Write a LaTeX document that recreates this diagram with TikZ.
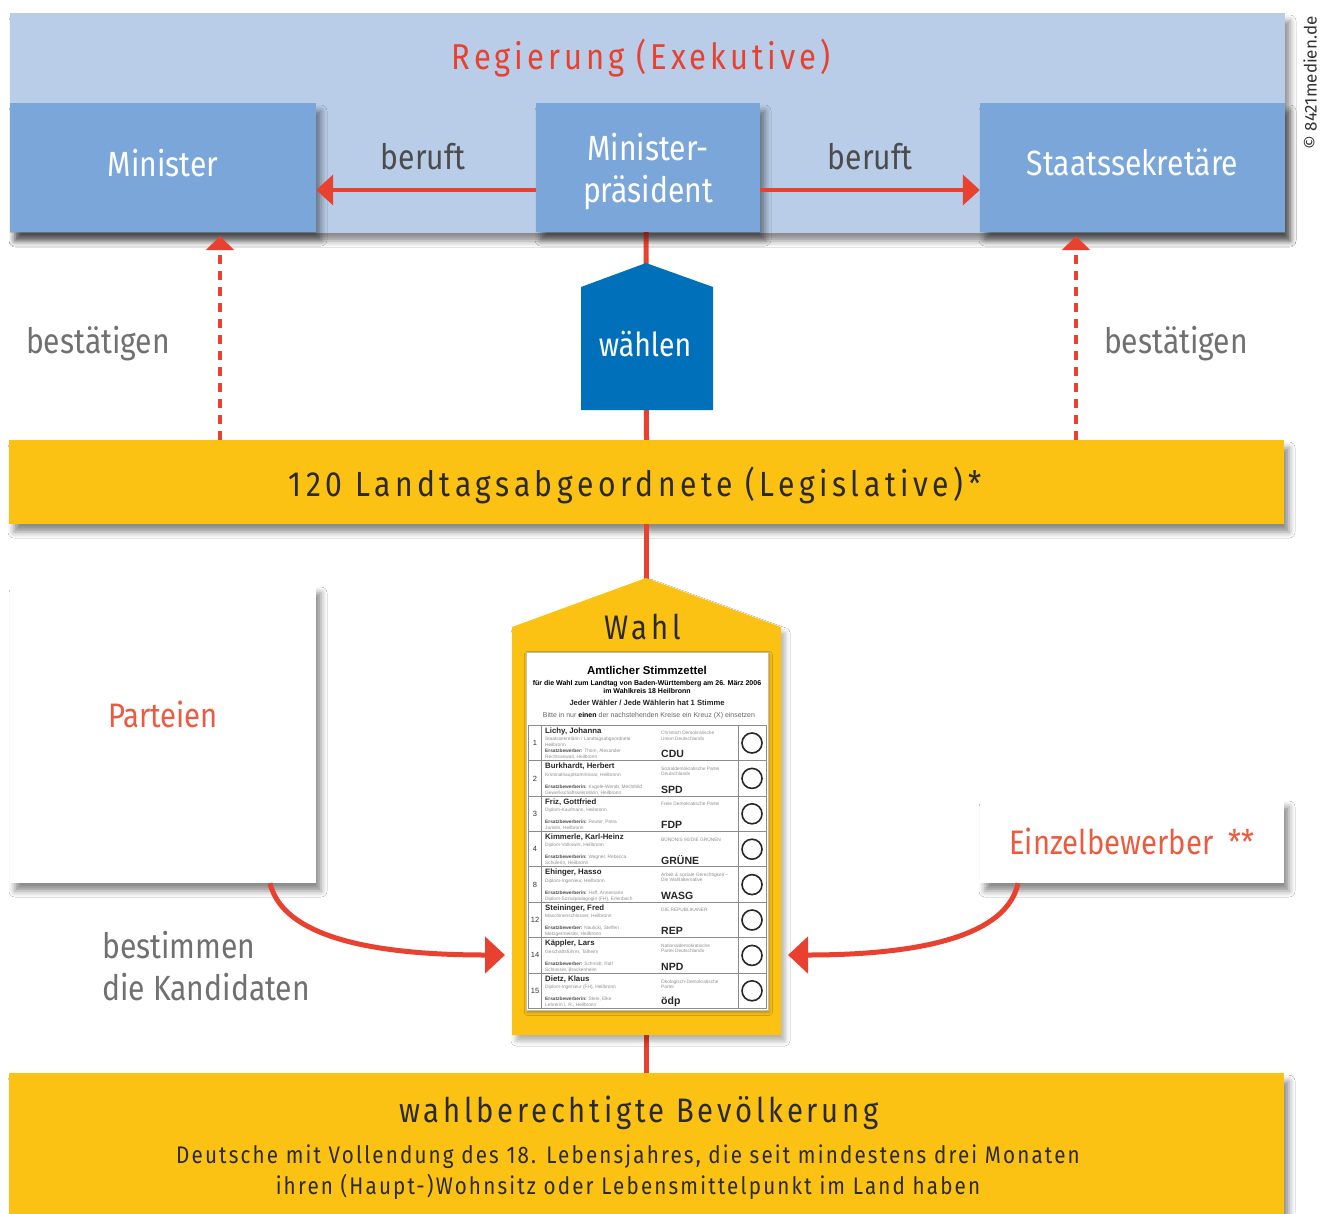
\documentclass[tikz,border=0pt]{standalone}
\usepackage{fontspec}
\setmainfont[FakeStretch=0.86]{Fira Sans}
\newfontfamily\spacedA[FakeStretch=0.86,LetterSpace=11]{Fira Sans}
\newfontfamily\spacedC[FakeStretch=0.86,LetterSpace=13]{Fira Sans}
\newfontfamily\spacedB[FakeStretch=0.86,LetterSpace=9]{Fira Sans}
\newfontfamily\plainsans{Fira Sans}
\newfontfamily\ballotfont{Liberation Sans}
\usetikzlibrary{arrows.meta,shadows.blur}
\definecolor{bandblue}{HTML}{B9CDE8}
\definecolor{boxblue}{HTML}{7BA6D9}
\definecolor{wblue}{HTML}{0070BA}
\definecolor{gelb}{HTML}{FCC213}
\definecolor{rot}{HTML}{E8412F}
\definecolor{orangerot}{HTML}{EC5B3F}
\definecolor{grautext}{HTML}{707070}
\definecolor{dunkel}{HTML}{2A2A2A}
\definecolor{bgrau}{HTML}{8E8E8E}
\newcommand\fsz[2]{\fontsize{#1}{#2}\selectfont}
\newcommand\brow[9]{%
  \pgfmathsetmacro\rt{725+35.4*#1}%
  \draw[bline] (528,\rt) -- (766,\rt);
  \node[bnum] (bnum#1) at (535,\rt+18) {#2};
  \node[bname] (bname#1) at (545,\rt+6) {#3};
  \node[btiny] (bocc#1) at (545,\rt+12) {#4};
  \node[btiny] (bers#1) at (545,\rt+24) {\textcolor{black!70}{\bfseries Ersatzbewerber#5:} #6};
  \node[btiny] (bpart#1) at (661,\rt+6) {#7};
  \node[babbr] (babbr#1) at (661,\rt+29) {#8};
  \node[bcirc] (bcirc#1) at (752,\rt+18) {};
  \node[btiny] (bocc2#1) at (545,\rt+30) {#9};
}
\begin{document}
\begin{tikzpicture}[x=1pt,y=-1pt,
  shad/.style={blur shadow={shadow xshift=5pt,shadow yshift=-8pt,shadow blur radius=6pt,shadow opacity=45}},
  bluebox/.style={fill=boxblue,minimum width=306,minimum height=129,inner sep=0,shad,text=white,font=\fsz{35}{38}},
  yellowbar/.style={fill=gelb,minimum width=1275,inner sep=0,shad,text=dunkel},
  whitebox/.style={fill=white,inner sep=0,shad,text=orangerot,font=\fsz{34}{38}},
  lbl/.style={text=grautext,font=\fsz{35}{40},inner sep=0},
  redline/.style={draw=rot,line width=5},
  redarrow/.style={draw=rot,line width=4,-{Triangle[length=17,width=30]}},
  dasharrow/.style={draw=rot,line width=3.5,dash pattern=on 9 off 7,-{Triangle[length=14,width=28]}},
  curvearrow/.style={draw=rot,line width=5,-{Triangle[length=20,width=36]}},
  bline/.style={draw=black!45,line width=0.6},
  bnum/.style={font=\ballotfont\fsz{7.5}{8},inner sep=0,text=black!80},
  bname/.style={font=\ballotfont\bfseries\fsz{7.8}{8},inner sep=0,anchor=west,text=black!85},
  btiny/.style={font=\ballotfont\fsz{4.8}{5.6},inner sep=0,anchor=north west,text=bgrau,align=left},
  babbr/.style={font=\ballotfont\bfseries\fsz{10.5}{11},inner sep=0,anchor=west,text=black!85},
  bcirc/.style={circle,draw=black!85,line width=1.6,minimum size=20,inner sep=0}
  ]
\useasboundingbox (0,0) rectangle (1322,1213);
\fill[white] (0,0) rectangle (1322,1213);

% Regierung band
\node[fill=bandblue,minimum width=1275,minimum height=220,inner sep=0,shad] (band) at (647.5,123) {};
\node[text=rot,font=\spacedA\fsz{36}{40},inner sep=0] (regtitle) at (641,58) {Regierung (Exekutive)};

% yellow bars and vertical red connector lines (behind)
\node[yellowbar,minimum height=84] (leg) at (646.5,482) {};
\node[yellowbar,minimum height=150,anchor=north] (bev) at (646.5,1073) {};
\node[inner sep=0,minimum size=0] (mpfoot) at (646,232) {};
\draw[redline] (mpfoot.center) -- (leg.north);
\draw[redline] (leg.south) -- (bev.north);
\node[font=\spacedC\fsz{35}{38},text=dunkel,inner sep=0] (legtext) at (635,485) {120 Landtagsabgeordnete (Legislative)*};

% blue boxes
\node[bluebox] (minister) at (163,167.5) {\raisebox{10pt}{Minister}};
\node[bluebox,minimum width=224,align=center] (mp) at (648,167.5) {\raisebox{0pt}[\dimexpr\height+8pt]{Minister-}\\[4pt]präsident};
\node[bluebox,minimum width=305] (staats) at (1132.5,167.5) {\raisebox{10pt}{Staatssekretäre}};

\coordinate (arrowy) at (0,190);
\draw[redarrow] (mp.west |- arrowy) -- (minister.east |- arrowy);
\draw[redarrow] (mp.east |- arrowy) -- (staats.west |- arrowy);
\node[lbl,text=black!70] (beruftL) at (423,157) {beruft};
\node[lbl,text=black!70] (beruftR) at (870,157) {beruft};

% waehlen pentagon
\fill[wblue] (581,287) -- (646,263) -- (713,287) -- (713,410) -- (581,410) -- cycle;
\node[text=white,font=\fsz{33}{36},inner sep=0] (waehlen) at (645,344) {wählen};

% dashed confirm arrows
\coordinate (dl) at (220,0);
\coordinate (dr) at (1076,0);
\draw[dasharrow] (leg.north -| dl) -- ([yshift=-4]minister.south -| dl);
\draw[dasharrow] (leg.north -| dr) -- ([yshift=-4]staats.south -| dr);
\node[lbl] (bestL) at (98,344) {bestätigen};
\node[lbl] (bestR) at (1176,344) {bestätigen};

% Wahl house
\fill[gelb,blur shadow={shadow xshift=4pt,shadow yshift=-6pt,shadow blur radius=5pt,shadow opacity=30}] (512,627) -- (646,578) -- (781,627) -- (781,1035) -- (512,1035) -- cycle;
\node[font=\spacedA\fsz{34}{36},text=dunkel,inner sep=0] (wahl) at (643,627) {Wahl};

% ballot
\node[fill=white,draw=black!25,line width=0.8,minimum width=242,minimum height=358,inner sep=0,anchor=north west,blur shadow={shadow xshift=1pt,shadow yshift=-2pt,shadow blur radius=3pt,shadow opacity=30}] (ballot) at (526,652) {};
\node[font=\ballotfont\bfseries\fsz{11.4}{12},inner sep=0] (bt1) at (647,670) {Amtlicher Stimmzettel};
\node[font=\ballotfont\bfseries\fsz{7}{8},inner sep=0,align=center] (bt2) at (647,687) {für die Wahl zum Landtag von Baden-Württemberg am 26. März 2006\\im Wahlkreis 18 Heilbronn};
\node[font=\ballotfont\bfseries\fsz{7.6}{8},inner sep=0,text=black!85] (bt3) at (647,703) {Jeder Wähler / Jede Wählerin hat 1 Stimme};
\node[font=\ballotfont\fsz{7}{8},inner sep=0,text=black!60] (bt4) at (649,716) {Bitte in nur \textcolor{black}{\bfseries einen} der nachstehenden Kreise ein Kreuz (X) einsetzen};
\brow{0}{1}{Lichy, Johanna}{Staatssekretärin / Landtagsabgeordnete\\Heilbronn}{}{Thom, Alexander}{Christlich Demokratische\\Union Deutschlands}{CDU}{Rechtsanwalt, Heilbronn}
\brow{1}{2}{Burkhardt, Herbert}{Kriminalhauptkommissar, Heilbronn}{in}{Kugele-Wendt, Mechthild}{Sozialdemokratische Partei\\Deutschlands}{SPD}{Gewerkschaftssekretärin, Heilbronn}
\brow{2}{3}{Friz, Gottfried}{Diplom-Kaufmann, Heilbronn}{in}{Reuter, Petra}{Freie Demokratische Partei}{FDP}{Juristin, Heilbronn}
\brow{3}{4}{Kimmerle, Karl-Heinz}{Diplom-Volkswirt, Heilbronn}{in}{Wagner, Rebecca}{BÜNDNIS 90/DIE GRÜNEN}{GRÜNE}{Schülerin, Heilbronn}
\brow{4}{8}{Ehinger, Hasso}{Diplom-Ingenieur, Heilbronn}{in}{Haff, Annemarie}{Arbeit \& soziale Gerechtigkeit –\\Die Wahlalternative}{WASG}{Diplom-Sozialpädagogin (FH), Erlenbach}
\brow{5}{12}{Steininger, Fred}{Maschinenschlosser, Heilbronn}{}{Naulicki, Steffen}{DIE REPUBLIKANER}{REP}{Metzgermeister, Heilbronn}
\brow{6}{14}{Käppler, Lars}{Geschäftsführer, Talheim}{}{Schmidt, Ralf}{Nationaldemokratische\\Partei Deutschlands}{NPD}{Schlosser, Brackenheim}
\brow{7}{15}{Dietz, Klaus}{Diplom-Ingenieur (FH), Heilbronn}{in}{Stein, Elke}{Ökologisch-Demokratische\\Partei}{ödp}{Lehrerin i. R., Heilbronn}
\draw[bline] (528,725) rectangle (766,1008);
\draw[bline] (541,725) -- (541,1008);
\draw[bline] (738,725) -- (738,1008);

% Parteien / Einzelbewerber
\node[whitebox,minimum width=306,minimum height=298] (parteien) at (163,734) {\raisebox{40pt}{Parteien}};
\node[whitebox,minimum width=304,minimum height=84] (einzel) at (1132,841) {Einzelbewerber~~**};
\coordinate (pstart) at (270,0);
\coordinate (estart) at (1018,0);
\coordinate (wl) at (505,955);
\coordinate (wr) at (788,955);
\draw[curvearrow] (parteien.south -| pstart) .. controls (285,945) and (400,955) .. (wl);
\draw[curvearrow] (einzel.south -| estart) .. controls (1005,945) and (890,955) .. (wr);
\node[lbl,anchor=west,align=left] (bestimmen) at (102,966) {bestimmen\\[2pt]die Kandidaten};

% bottom text
\node[font=\spacedA\fsz{34}{36},text=dunkel,inner sep=0] (bevtitle) at (639,1113) {wahlberechtigte Bevölkerung};
\node[font=\spacedB\fsz{24}{31},text=dunkel,inner sep=0,align=center] (bevsub) at (628,1172) {Deutsche mit Vollendung des 18. Lebensjahres, die seit mindestens drei Monaten\\ihren (Haupt-)Wohnsitz oder Lebensmittelpunkt im Land haben};

% copyright
\node[rotate=90,font=\plainsans\fsz{17}{20},text=black!80,inner sep=0] (copy) at (1310,83) {© 8421medien.de};
\end{tikzpicture}
\end{document}
